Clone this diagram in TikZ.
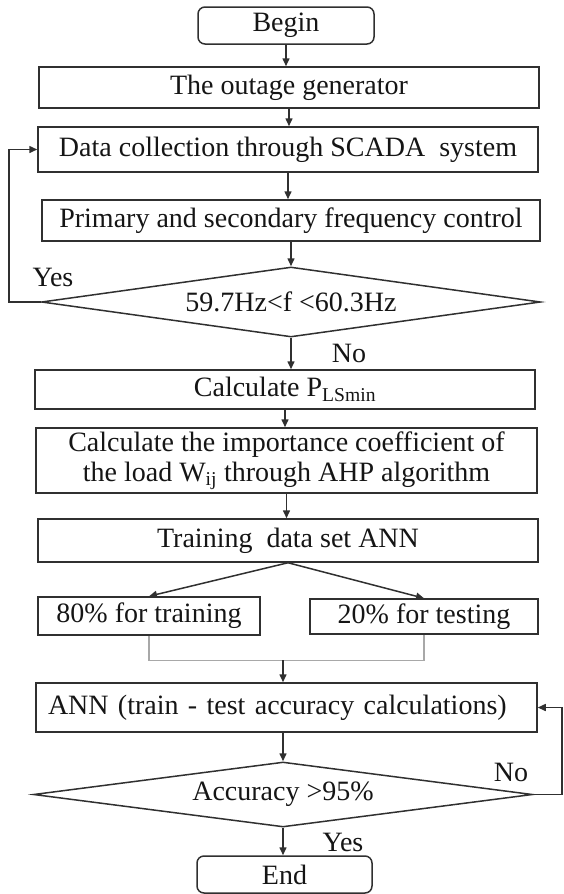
\documentclass[tikz,border=0pt]{standalone}
\usepackage{fontspec}
\setmainfont{Liberation Serif}
\usetikzlibrary{arrows.meta,shapes.geometric}
\definecolor{ln}{HTML}{303030}
\definecolor{txt}{HTML}{151515}
\definecolor{brk}{HTML}{A8A8A8}
\begin{document}
\begin{tikzpicture}[x=1pt,y=-1pt,
  every node/.style={font=\fontsize{28}{30}\selectfont, text=txt},
  box/.style={draw=ln, line width=1.5pt, rectangle, inner sep=0pt, align=center},
  term/.style={box, rounded corners=7pt},
  dec/.style={draw=ln, line width=1.5pt, diamond, aspect=7, inner sep=0pt},
  flow/.style={draw=ln, line width=1.5pt, -{Triangle[length=8pt,width=7pt]}},
  lbl/.style={inner sep=0pt},
  bracket/.style={draw=brk, line width=1.4pt},
]
\useasboundingbox (0,0) rectangle (563,894);

\node[term, minimum width=176pt, minimum height=37pt] (begin) at (286,25.5) {Begin};
\node[box, minimum width=500pt, minimum height=41pt] (outage) at (289,87.5) {The outage generator};
\node[box, minimum width=500pt, minimum height=45pt] (data) at (288,149.5) {Data collection through SCADA\ \ system};
\node[box, minimum width=498pt, minimum height=41pt] (prim) at (291,220.5) {Primary and secondary frequency control};
\node[dec, minimum width=499pt, minimum height=70pt] (d1) at (291,302) {59.7Hz<f <60.3Hz};
\node[lbl] (yes1) at (53,277) {Yes};
\node[lbl] (no1) at (349,353) {No};
\node[box, minimum width=500pt, minimum height=39pt] (calc) at (285,389.5) {Calculate P\textsubscript{LSmin}};
\node[box, minimum width=501pt, minimum height=65pt] (imp) at (286.5,460.5) {Calculate the importance coefficient of\\the load W\textsubscript{ij} through AHP algorithm};
\node[box, minimum width=500pt, minimum height=43pt] (train) at (288,540.5) {Training\ \ data set ANN};
\node[box, minimum width=222pt, minimum height=38pt] (p80) at (149,616) {80\% for training};
\node[box, minimum width=228pt, minimum height=35pt] (p20) at (424,616.5) {20\% for testing};
\node[box, minimum width=501pt, minimum height=49pt, text width=477pt, inner xsep=12pt, align=left] (ann) at (286.5,707.5) {ANN (train - test accuracy calculations)};
\node[dec, minimum width=499pt, minimum height=65pt] (d2) at (283,794.5) {Accuracy >95\%};
\node[lbl] (no2) at (511,772) {No};
\node[lbl] (yes2) at (343,842) {Yes};
\node[term, minimum width=175pt, minimum height=37pt] (end) at (284.5,874.5) {End};

\coordinate (fbL) at (9,302);
\coordinate (fbR) at (562,794);
\coordinate (join) at (283,660);

\draw[flow] (begin.south) -- (begin.south |- outage.north);
\draw[flow] (outage.south) -- (outage.south |- data.north);
\draw[flow] (data.south) -- (data.south |- prim.north);
\draw[flow] (prim.south -| d1.north) -- (d1.north);
\draw[flow] (d1.west) -- (d1.west -| fbL) |- (data.west);
\draw[flow] (d1.south) -- (d1.south |- calc.north);
\draw[flow] (calc.south) -- (calc.south |- imp.north);
\draw[flow] (imp.south) -- (imp.south |- train.north);
\draw[flow] (train.south) -- (p80.north);
\draw[flow] (train.south) -- (p20.north);
\draw[bracket] (p80.south) -- ++(0,25) -| (p20.south);
\draw[flow] (join) -- (join |- ann.north);
\draw[flow] (ann.south -| d2.north) -- (d2.north);
\draw[flow] (d2.east) -- (d2.east -| fbR) |- (ann.east);
\draw[flow] (d2.south) -- (d2.south |- end.north);
\end{tikzpicture}
\end{document}
